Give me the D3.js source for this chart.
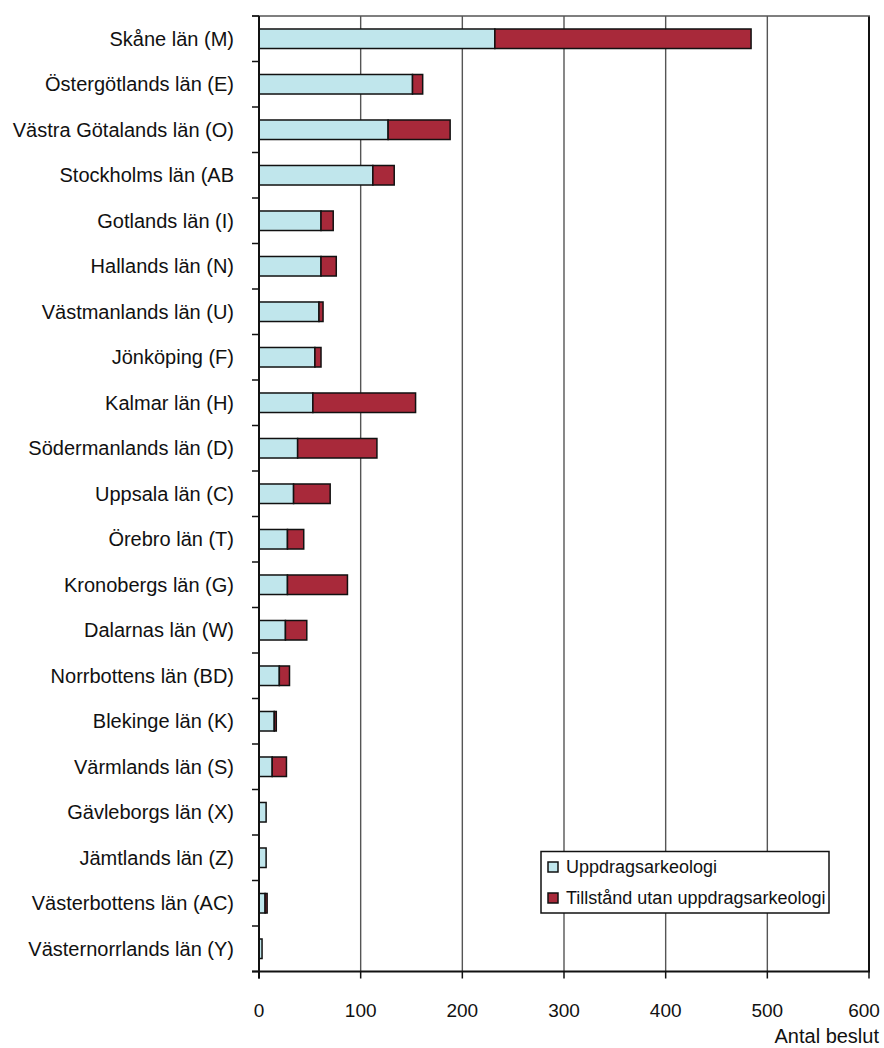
<!DOCTYPE html>
<html><head><meta charset="utf-8">
<script src="https://cdn.jsdelivr.net/npm/d3@7"></script>
<style>
html,body{margin:0;padding:0;background:#fff;}
svg{display:block;}
text{font-family:"Liberation Sans",Arial,sans-serif;fill:#111;}
</style></head>
<body>
<svg id="chart" width="884" height="1048"></svg>
<script>
const categories = ["Skåne län (M)","Östergötlands län (E)","Västra Götalands län (O)","Stockholms län (AB","Gotlands län (I)","Hallands län (N)","Västmanlands län (U)","Jönköping (F)","Kalmar län (H)","Södermanlands län (D)","Uppsala län (C)","Örebro län (T)","Kronobergs län (G)","Dalarnas län (W)","Norrbottens län (BD)","Blekinge län (K)","Värmlands län (S)","Gävleborgs län (X)","Jämtlands län (Z)","Västerbottens län (AC)","Västernorrlands län (Y)"];
const uppdrag = [232,151,127,112,61,61,59,55,53,38,34,28,28,26,20,15,13,7,7,6,3];
const tillstand = [252,10,61,21,12,15,4,6,101,78,36,16,59,21,10,2,14,0,0,2,0];
const seriesNames = ["Uppdragsarkeologi","Tillstånd utan uppdragsarkeologi"];
const colors = ["#c0e6ec","#a8293a"];
const xTicks = [0,100,200,300,400,500,600];
const xTitle = "Antal beslut";

(function(){
const svg = d3.select("#chart");
const x = d3.scaleLinear().domain([0,600]).range([259,869]);
const y = d3.scaleBand().domain(categories).range([16,971.5]).paddingInner(0.571).paddingOuter(0.2855);
const plotTop = 16, plotBottom = 971.5;

// gridlines
svg.append("g").selectAll("line").data(xTicks.filter(d=>d>0)).join("line")
  .attr("x1",d=>x(d)).attr("x2",d=>x(d)).attr("y1",plotTop).attr("y2",plotBottom)
  .attr("stroke",d=>d===600?"#111":"#555").attr("stroke-width",d=>d===600?2:1.4);
// top border
svg.append("line").attr("x1",252).attr("x2",x(600)+1).attr("y1",plotTop).attr("y2",plotTop)
  .attr("stroke","#555").attr("stroke-width",1.4);

// bars
const rows = categories.map((c,i)=>({c, a:uppdrag[i], b:tillstand[i]}));
const g = svg.append("g");
g.selectAll("rect.a").data(rows).join("rect").attr("class","a")
  .attr("x",x(0)).attr("y",d=>y(d.c)).attr("width",d=>x(d.a)-x(0)).attr("height",y.bandwidth())
  .attr("fill",colors[0]).attr("stroke","#111").attr("stroke-width",1.5);
g.selectAll("rect.b").data(rows.filter(d=>d.b>0)).join("rect").attr("class","b")
  .attr("x",d=>x(d.a)).attr("y",d=>y(d.c)).attr("width",d=>x(d.a+d.b)-x(d.a)).attr("height",y.bandwidth())
  .attr("fill",colors[1]).attr("stroke","#111").attr("stroke-width",1.5);

// y axis
svg.append("line").attr("x1",x(0)).attr("x2",x(0)).attr("y1",plotTop).attr("y2",plotBottom+7)
  .attr("stroke","#111").attr("stroke-width",2);
const bounds = d3.range(categories.length+1).map(k=>plotTop + k*y.step());
svg.append("g").selectAll("line").data(bounds).join("line")
  .attr("x1",252).attr("x2",x(0)).attr("y1",d=>d).attr("y2",d=>d)
  .attr("stroke","#111").attr("stroke-width",1.5);
svg.append("g").selectAll("text").data(categories).join("text")
  .attr("x",234).attr("y",d=>y(d)+y.bandwidth()/2).attr("dy","0.36em")
  .attr("text-anchor","end").attr("font-size",20).text(d=>d);

// x axis
svg.append("line").attr("x1",252).attr("x2",x(600)+1).attr("y1",plotBottom).attr("y2",plotBottom)
  .attr("stroke","#111").attr("stroke-width",2);
svg.append("g").selectAll("line").data(xTicks).join("line")
  .attr("x1",d=>x(d)).attr("x2",d=>x(d)).attr("y1",plotBottom).attr("y2",plotBottom+7)
  .attr("stroke","#111").attr("stroke-width",1.5);
svg.append("g").selectAll("text").data(xTicks).join("text")
  .attr("x",d=>Math.min(x(d),864)).attr("y",1017).attr("text-anchor","middle").attr("font-size",19).text(d=>d);
svg.append("text").attr("x",879).attr("y",1043).attr("text-anchor","end").attr("font-size",20).text(xTitle);

// legend
const lg = svg.append("g");
lg.append("rect").attr("x",541).attr("y",851.5).attr("width",288).attr("height",61.5)
  .attr("fill","#fff").attr("stroke","#111").attr("stroke-width",1.5);
const ly = [867,898];
seriesNames.forEach((s,i)=>{
  lg.append("rect").attr("x",548).attr("y",ly[i]-5).attr("width",10).attr("height",10)
    .attr("fill",colors[i]).attr("stroke","#111").attr("stroke-width",1.5);
  lg.append("text").attr("x",566).attr("y",ly[i]).attr("dy","0.36em").attr("font-size",18).text(s);
});
})();
</script>
</body></html>
